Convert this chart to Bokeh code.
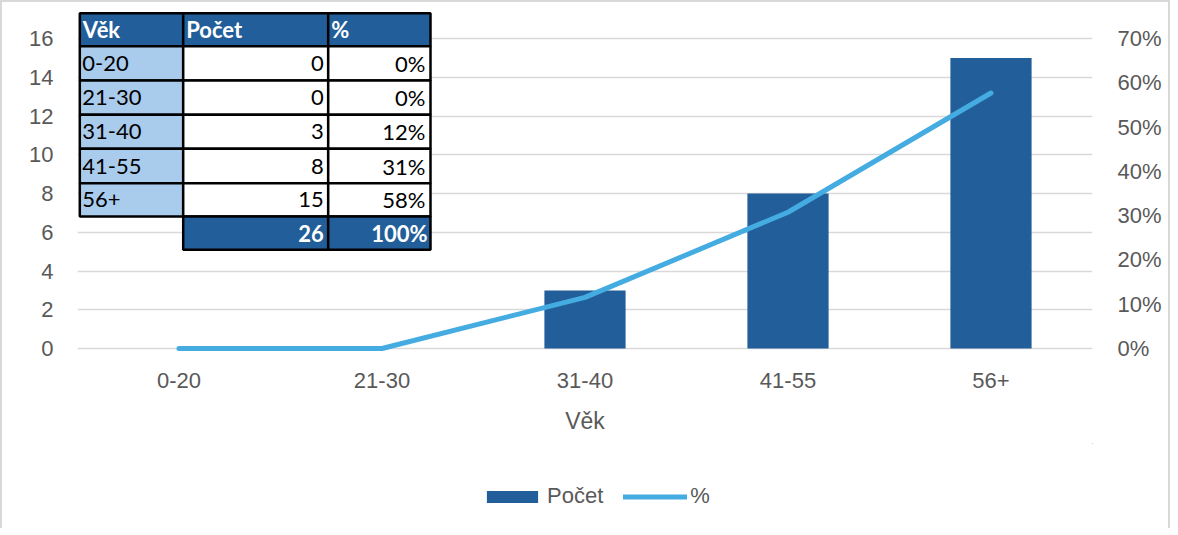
from bokeh.plotting import figure
from bokeh.layouts import column
from bokeh.models import (Range1d, LinearAxis, FixedTicker, NumeralTickFormatter,
                          Legend, LegendItem)
from bokeh.core.properties import value
from bokeh.embed import file_html
from bokeh.resources import INLINE

# ---- data ----
ages = ["0-20", "21-30", "31-40", "41-55", "56+"]
counts = [0, 0, 3, 8, 15]
shares = [0.0, 0.0, 0.1154, 0.3077, 0.5769]
count_labels = ["0", "0", "3", "8", "15"]
share_labels = ["0%", "0%", "12%", "31%", "58%"]
total_count_label = "26"
total_share_label = "100%"
header = ["Věk", "Počet", "%"]
count_ticks = [0, 2, 4, 6, 8, 10, 12, 14, 16]
share_ticks = [0.0, 0.1, 0.2, 0.3, 0.4, 0.5, 0.6, 0.7]
legend_labels = ["Počet", "%"]

# ---- layout constants ----
FRAME_W, FRAME_H = 1015, 342
BASE = 4          # pixels of frame below the zero line
GRID_H = 310      # pixels from zero to the top tick
ABOVE = FRAME_H - BASE
yr = Range1d(-BASE * max(count_ticks) / GRID_H, ABOVE * max(count_ticks) / GRID_H)
pr = Range1d(-BASE * max(share_ticks) / GRID_H, ABOVE * max(share_ticks) / GRID_H)

BAR = "#225E99"
LINE = "#45ACE2"
LIGHT = "#A9CBEC"
GRID = "#D9D9D9"
TXT = "#595959"
AXFONT = "Liberation Sans"
TFONT = "Lato"
BORDER = "2px solid #D9D9D9"

xpos = list(range(len(ages)))

p = figure(x_range=Range1d(-0.5, len(ages) - 0.5), y_range=yr,
           width=1170, height=443, output_backend="svg", toolbar_location=None,
           min_border_left=75, min_border_right=80, min_border_top=8,
           min_border_bottom=93, outline_line_color=None,
           styles={"border-left": BORDER, "border-top": BORDER, "border-right": BORDER})
p.extra_y_ranges = {"pct": pr, "py": Range1d(FRAME_H, 0)}
p.extra_x_ranges = {"px": Range1d(0, FRAME_W)}

p.xgrid.grid_line_color = None
p.ygrid.ticker = FixedTicker(ticks=count_ticks)
p.ygrid.grid_line_color = GRID
p.ygrid.grid_line_width = 1.5

p.vbar(x=xpos, top=counts, width=0.4, fill_color=BAR, line_color=None)
p.line(x=xpos, y=shares, y_range_name="pct", line_color=LINE, line_width=5,
       line_cap="round", line_join="round")

# axes
xa = p.xaxis[0]
xa.ticker = FixedTicker(ticks=xpos)
xa.major_label_overrides = {i: a for i, a in zip(xpos, ages)}
xa.axis_line_color = None
xa.major_tick_line_color = None
xa.minor_tick_line_color = None
xa.major_tick_out = 0
xa.major_label_standoff = 20
xa.major_label_text_font = AXFONT
xa.major_label_text_font_size = "22px"
xa.major_label_text_color = TXT
xa.axis_label = "Věk"
xa.axis_label_text_font = AXFONT
xa.axis_label_text_font_style = "normal"
xa.axis_label_text_font_size = "23px"
xa.axis_label_text_color = TXT
xa.axis_label_standoff = 17

ya = p.yaxis[0]
ya.ticker = FixedTicker(ticks=count_ticks)
ya.axis_line_color = None
ya.major_tick_line_color = None
ya.minor_tick_line_color = None
ya.major_tick_out = 0
ya.major_label_standoff = 24
ya.major_label_text_font = AXFONT
ya.major_label_text_font_size = "22px"
ya.major_label_text_color = TXT

ra = LinearAxis(y_range_name="pct", ticker=FixedTicker(ticks=share_ticks),
                formatter=NumeralTickFormatter(format="0%"))
ra.axis_line_color = None
ra.major_tick_line_color = None
ra.minor_tick_line_color = None
ra.major_tick_out = 0
ra.major_label_standoff = 25
ra.major_label_text_font = AXFONT
ra.major_label_text_font_size = "22px"
ra.major_label_text_color = TXT
p.add_layout(ra, "right")

# ---- table overlay (pixel coordinates inside the frame, y downward) ----
cx = [2.3, 105.7, 250.7, 353.0]
ry = [2.7, 35.7, 70.0, 104.3, 138.3, 172.7, 206.0, 239.3]
n = len(ages)
L, R, T, B, F = [], [], [], [], []
for c in range(3):
    L.append(cx[c]); R.append(cx[c + 1]); T.append(ry[0]); B.append(ry[1]); F.append(BAR)
for i in range(n):
    for c in range(3):
        L.append(cx[c]); R.append(cx[c + 1]); T.append(ry[i + 1]); B.append(ry[i + 2])
        F.append(LIGHT if c == 0 else "white")
for c in (1, 2):
    L.append(cx[c]); R.append(cx[c + 1]); T.append(ry[n + 1]); B.append(ry[n + 2]); F.append(BAR)
p.quad(left=L, right=R, top=T, bottom=B, fill_color=F, line_color="black", line_width=2.5,
       x_range_name="px", y_range_name="py")

def mid(i):
    return (ry[i] + ry[i + 1]) / 2

TSIZE = "22px"
p.text(x=[cx[c] + 3 for c in range(3)], y=[mid(0)] * 3, text=header,
       x_range_name="px", y_range_name="py", text_font=value(TFONT), text_font_style="bold",
       text_font_size=TSIZE, text_color="white", text_baseline="middle", text_align="left")
p.text(x=[cx[0] + 2.5] * n, y=[mid(i + 1) for i in range(n)], text=ages,
       x_range_name="px", y_range_name="py", text_font=value(TFONT), text_font_size=TSIZE,
       text_color="black", text_baseline="middle", text_align="left")
p.text(x=[cx[2] - 4.5] * n, y=[mid(i + 1) for i in range(n)], text=count_labels,
       x_range_name="px", y_range_name="py", text_font=value(TFONT), text_font_size=TSIZE,
       text_color="black", text_baseline="middle", text_align="right")
p.text(x=[cx[3] - 5] * n, y=[mid(i + 1) for i in range(n)], text=share_labels,
       x_range_name="px", y_range_name="py", text_font=value(TFONT), text_font_size=TSIZE,
       text_color="black", text_baseline="middle", text_align="right")
p.text(x=[cx[2] - 4.5, cx[3] - 3], y=[mid(n + 1)] * 2, text=[total_count_label, total_share_label],
       x_range_name="px", y_range_name="py", text_font=value(TFONT), text_font_style="bold",
       text_font_size=TSIZE, text_color="white", text_baseline="middle", text_align="right")

# ---- legend strip (separate figure below the chart; its glyphs lie outside its view) ----
p2 = figure(width=1170, height=85, x_range=Range1d(-100, -99), y_range=Range1d(-100, -99),
            x_axis_type=None, y_axis_type=None, output_backend="svg",
            toolbar_location=None, min_border=0, outline_line_color=None,
            styles={"border-left": BORDER, "border-right": BORDER})
lb = p2.vbar(x=xpos, top=counts, width=0.4, fill_color=BAR, line_color=None)
ll = p2.line(x=xpos, y=shares, line_color=LINE, line_width=5, line_cap="round")
legend = Legend(items=[LegendItem(label=legend_labels[0], renderers=[lb]),
                       LegendItem(label=legend_labels[1], renderers=[ll])],
                orientation="horizontal", location=(403, 19), padding=0, margin=0,
                spacing=20, glyph_width=64, glyph_height=15, label_height=26,
                label_standoff=3, border_line_color=None, background_fill_alpha=0,
                label_text_font=AXFONT, label_text_font_size="22px", label_text_color=TXT)
p2.add_layout(legend)

layout = column(p, p2, spacing=0)
open("out.html", "w").write(file_html(layout, INLINE))
